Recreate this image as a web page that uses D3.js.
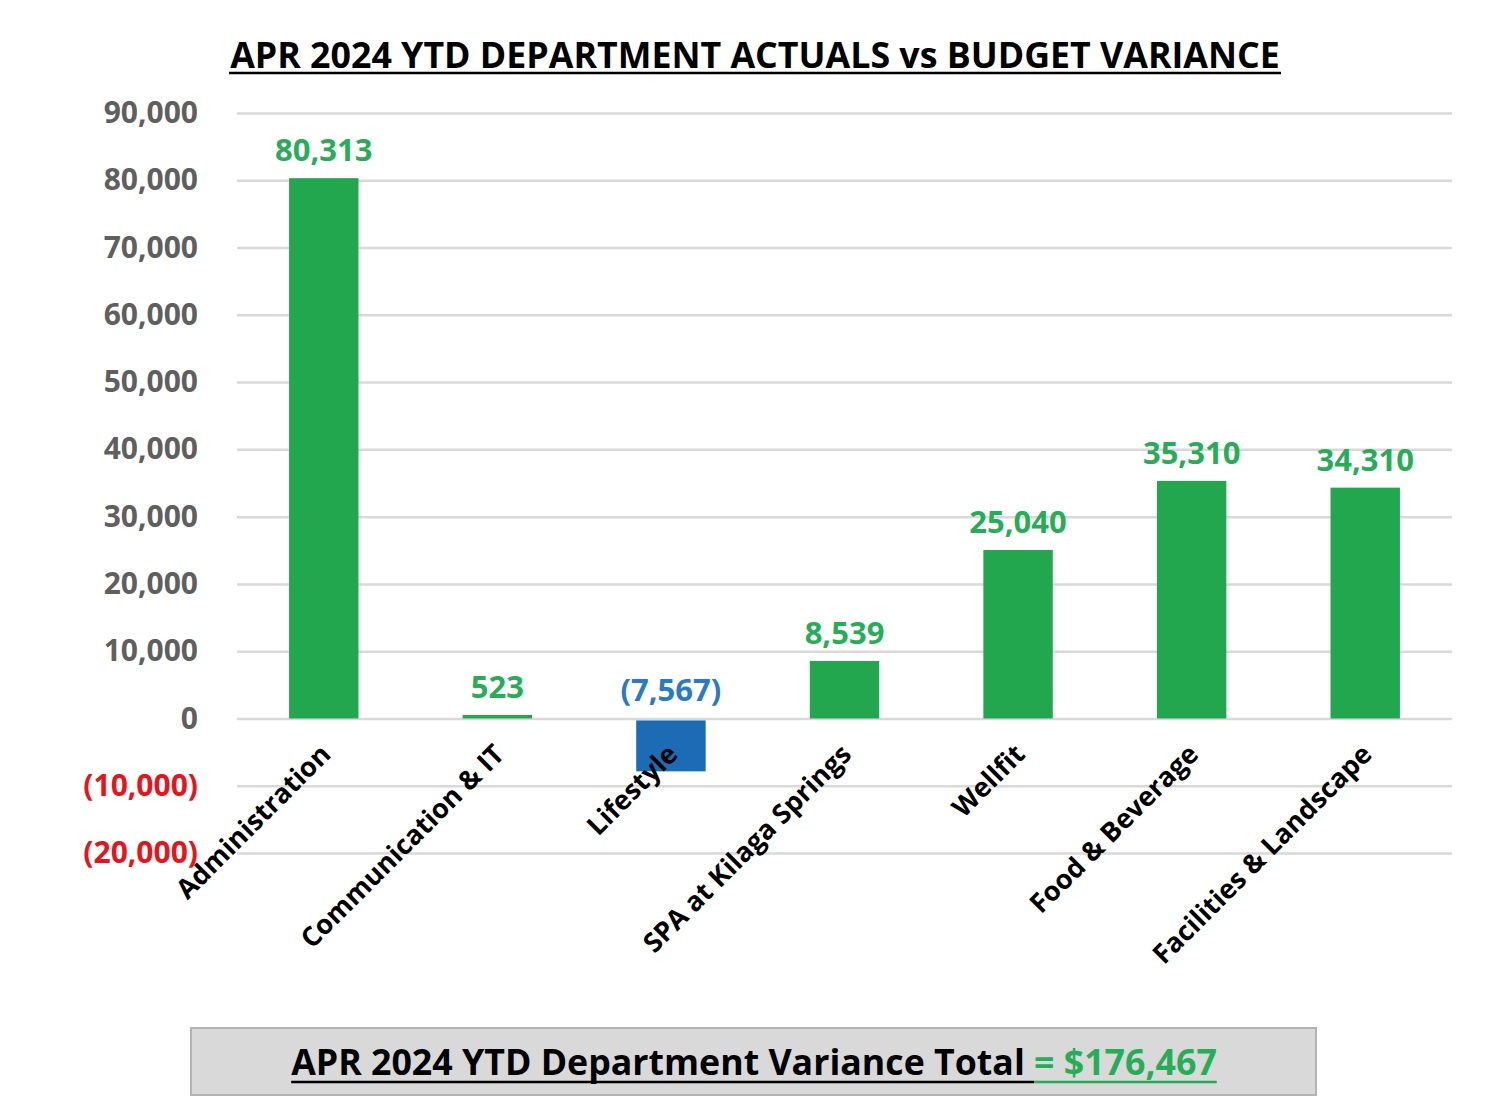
<!DOCTYPE html>
<html>
<head>
<meta charset="utf-8">
<script src="https://cdn.jsdelivr.net/npm/d3@7"></script>
<style>
  body { margin: 0; background: #fff; }
  svg { display: block; font-family: "Open Sans", sans-serif; font-weight: 700; }
</style>
</head>
<body>
<svg id="chart" width="1492" height="1120"></svg>
<script>
// chart data
var departments = ['Administration', 'Communication & IT', 'Lifestyle', 'SPA at Kilaga Springs',
                   'Wellfit', 'Food & Beverage', 'Facilities & Landscape'];
var variance = [80313, 523, -7567, 8539, 25040, 35310, 34310];
var yTicks = [-20000, -10000, 0, 10000, 20000, 30000, 40000, 50000, 60000, 70000, 80000, 90000];
var titleText = 'APR 2024 YTD DEPARTMENT ACTUALS vs BUDGET VARIANCE';
var totalLabel = 'APR 2024 YTD Department Variance Total';
var totalValue = '= $176,467';

var green = '#22a74f', blue = '#1c6bb5', greenText = '#27ad58', blueText = '#2a7bc4';

var svg = d3.select('#chart');
var plot = {l: 237, r: 1452, t: 113, b: 853};

var x = d3.scaleBand().domain(departments).range([plot.l, plot.r]).paddingInner(0.6).paddingOuter(0.3);
var y = d3.scaleLinear().domain([-20000, 90000]).range([plot.b, plot.t]);

function fmt(v) {
    var s = d3.format(',')(Math.abs(v));
    return v < 0 ? '(' + s + ')' : s;
}

// fit a text element to a target width by changing its font size
function fitWidth(sel, target) {
    var fs = parseFloat(sel.attr('font-size'));
    var w = sel.node().getComputedTextLength();
    sel.attr('font-size', fs * target / w);
}

// title
var title = svg.append('text')
    .attr('x', 755).attr('y', 68)
    .attr('text-anchor', 'middle')
    .attr('font-size', 32)
    .attr('fill', '#000')
    .text(titleText);
fitWidth(title, 1050);
svg.append('line')
    .attr('x1', 229).attr('x2', 1281).attr('y1', 73).attr('y2', 73)
    .attr('stroke', '#000').attr('stroke-width', 2.5);

// y axis with gridlines
var yAxis = d3.axisLeft(y).tickValues(yTicks).tickSize(-(plot.r - plot.l)).tickPadding(39).tickFormat(fmt);
var yg = svg.append('g')
    .attr('transform', 'translate(' + plot.l + ',0)')
    .call(yAxis);
yg.select('.domain').remove();
yg.selectAll('.tick line').attr('stroke', '#d9d9d9').attr('stroke-width', 2.5);
yg.selectAll('.tick text')
    .attr('font-size', 30)
    .attr('font-family', '"Open Sans", sans-serif')
    .attr('font-weight', 700)
    .attr('fill', function(d) { return d < 0 ? '#e8131c' : '#5f5f5f'; });

// bars
svg.selectAll('.bar')
    .data(variance)
    .enter()
    .append('rect')
    .attr('class', 'bar')
    .attr('x', function(d, i) { return x(departments[i]); })
    .attr('width', x.bandwidth())
    .attr('y', function(d) { return d >= 0 ? y(d) : y(0) + 2; })
    .attr('height', function(d) { return Math.abs(y(d) - y(0)); })
    .attr('fill', function(d) { return d >= 0 ? green : blue; });

// data labels
svg.selectAll('.val')
    .data(variance)
    .enter()
    .append('text')
    .attr('class', 'val')
    .attr('x', function(d, i) { return x(departments[i]) + x.bandwidth() / 2; })
    .attr('y', function(d) { return y(Math.max(d, 0)) - 29; })
    .attr('text-anchor', 'middle')
    .attr('dominant-baseline', 'central')
    .attr('font-size', 31)
    .attr('fill', function(d) { return d >= 0 ? greenText : blueText; })
    .text(fmt);

// category labels, rotated
svg.selectAll('.cat')
    .data(departments)
    .enter()
    .append('text')
    .attr('class', 'cat')
    .attr('text-anchor', 'end')
    .attr('dominant-baseline', 'central')
    .attr('font-size', 27)
    .attr('fill', '#000')
    .attr('transform', function(d) {
        return 'translate(' + (x(d) + x.bandwidth() / 2 + 1) + ',' + (y(0) + 30) + ') rotate(-45)';
    })
    .text(function(d) { return d; });

// total box
svg.append('rect')
    .attr('x', 191).attr('y', 1028).attr('width', 1125).attr('height', 67)
    .attr('fill', '#d9d9d9').attr('stroke', '#b3b3b3').attr('stroke-width', 2);

var total = svg.append('text')
    .attr('x', 754).attr('y', 1075)
    .attr('text-anchor', 'middle')
    .attr('font-size', 32);
total.append('tspan').attr('fill', '#000').text(totalLabel + ' ');
total.append('tspan').attr('fill', greenText).text(totalValue);
fitWidth(total, 926);

// underlines for the two parts of the total
var bb = total.node().getBBox();
var split = total.select('tspan').node().getComputedTextLength();
var uy = 1082;
svg.append('line')
    .attr('x1', bb.x).attr('x2', bb.x + split).attr('y1', uy).attr('y2', uy)
    .attr('stroke', '#000').attr('stroke-width', 2.5);
svg.append('line')
    .attr('x1', bb.x + split).attr('x2', bb.x + bb.width).attr('y1', uy).attr('y2', uy)
    .attr('stroke', greenText).attr('stroke-width', 2.5);
</script>
</body>
</html>
